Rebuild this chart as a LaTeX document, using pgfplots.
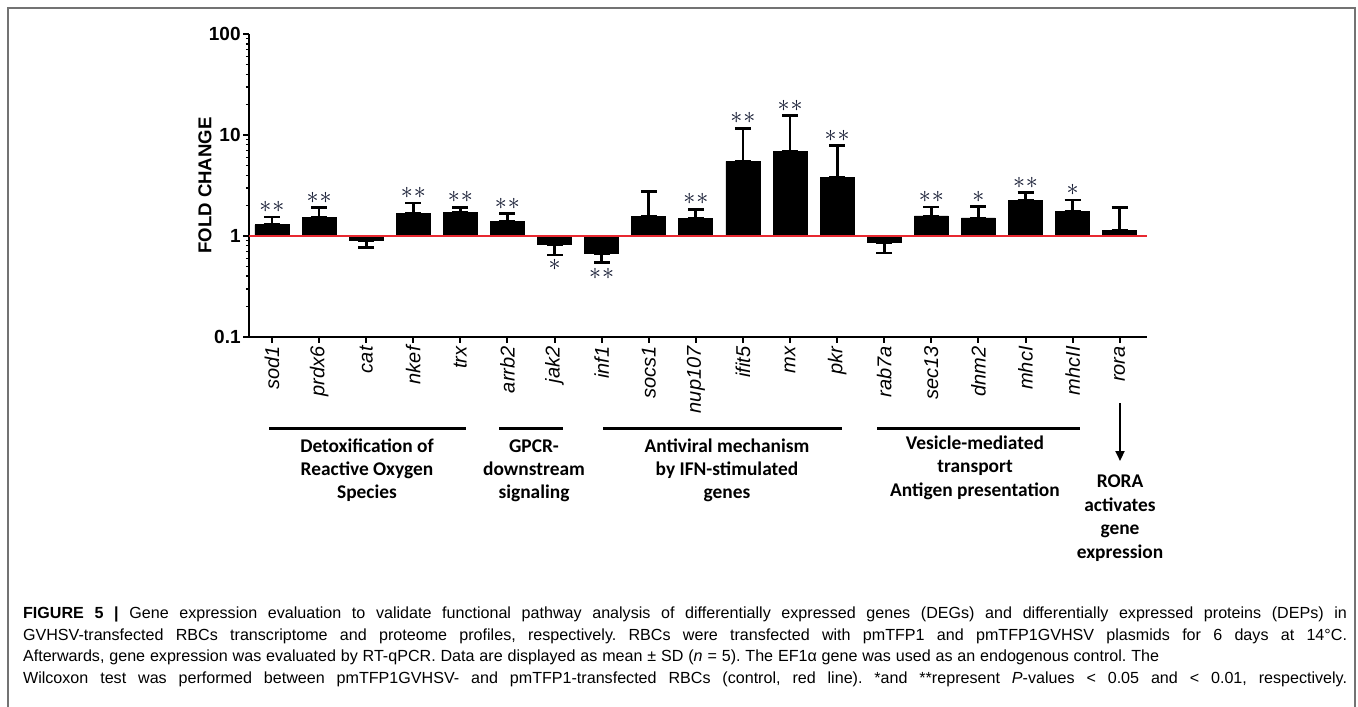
\documentclass[border=0pt]{standalone}
\usepackage{fontspec}
\setmainfont{Liberation Sans}
\newfontfamily\calibri{Carlito}
\newfontfamily\capfont{Liberation Sans}
\usepackage{pgfplots}
\pgfplotsset{compat=1.18}
\usepackage{pgfplotstable}
\usetikzlibrary{arrows.meta,plotmarks}
\definecolor{redline}{RGB}{232,40,48}
\definecolor{framegray}{RGB}{115,115,115}
\definecolor{starcol}{RGB}{18,24,48}

% x = category index, val = mean fold change, ep/em = SD (plus / minus)
\pgfplotstableread{
x val ep em
0 1.29 0.25 0
1 1.54 0.36 0
2 0.90 0 0.135
3 1.68 0.44 0
4 1.71 0.22 0
5 1.40 0.26 0
6 0.82 0 0.17
7 0.67 0 0.12
8 1.56 1.22 0
9 1.49 0.35 0
10 5.49 6.21 0
11 6.81 8.79 0
12 3.80 4.06 0
13 0.86 0 0.18
14 1.58 0.36 0
15 1.51 0.45 0
16 2.25 0.45 0
17 1.75 0.52 0
18 1.13 0.80 0
}\datatable

\newcommand{\grp}[3]{\node[anchor=base,inner sep=0pt,font=\calibri\bfseries\fontsize{9.7}{11}\selectfont] at (#1,#2) {#3};}
\newcommand{\capline}[3]{\node[anchor=base west, inner sep=0pt] at (22.7,#1) {\capfont\fontsize{8.05}{9}\selectfont\frenchspacing\hbox to #2{#3}};}
\newcommand{\twostar}{${\ast}\kern0.5pt{\ast}$}

\begin{document}
\begin{tikzpicture}
\begin{axis}[
  at={(124.5pt,-168.5pt)}, anchor=south west,
  scale only axis, width=449pt, height=151.5pt,
  ymode=log, ymin=0.1, ymax=100,
  xmin=-0.488, xmax=18.58,
  axis lines=left,
  axis line style={line width=1.2pt, -},
  tick align=outside,
  major tick length=3pt, minor tick length=1.6pt,
  every tick/.style={black, line width=1pt},
  minor tick style={line width=0.7pt},
  xtick={0,...,18},
  xticklabels={sod1,prdx6,cat,nkef,trx,arrb2,jak2,inf1,socs1,nup107,ifit5,mx,pkr,rab7a,sec13,dnm2,mhcI,mhcII,rora},
  xticklabel style={rotate=90, anchor=east, font=\itshape\fontsize{10}{12}\selectfont, inner sep=1.5pt},
  ytick={0.1,1,10,100},
  yticklabels={0.1,1,10,100},
  minor ytick={0.2,0.3,0.4,0.5,0.6,0.7,0.8,0.9,2,3,4,5,6,7,8,9,20,30,40,50,60,70,80,90},
  yticklabel style={font=\bfseries\fontsize{9.5}{11}\selectfont, inner sep=1pt},
  ylabel={FOLD CHANGE},
  every axis y label/.style={at={(axis description cs:-0.049,0.5)}, rotate=90, anchor=center, font=\bfseries\fontsize{9.3}{11}\selectfont},
  clip=false,
]
\addplot[ybar, bar width=17pt, bar shift=0pt, fill=black, draw=black,
  error bars/.cd, y dir=both, y explicit,
  error bar style={line width=1.4pt, black},
  error mark options={rotate=90, line width=1.4pt, mark size=4pt, black}]
  table[x=x, y=val, y error plus=ep, y error minus=em]{\datatable};

\addplot[redline, line width=0.9pt, no marks] coordinates {(-0.488,1) (18.58,1)};

% significance stars (at error-bar tips)
\addplot[only marks, mark=text, text mark={\twostar}, text mark as node=true,
  text mark style={font=\fontsize{11.5}{11}\selectfont, text=starcol, inner sep=0pt},
  mark options={yshift=5pt}]
  coordinates {(0,1.54) (1,1.90) (3,2.12) (4,1.93) (5,1.66) (9,1.84) (10,11.7) (11,15.6) (12,7.86) (14,1.94) (16,2.70)};
\addplot[only marks, mark=text, text mark={$\ast$}, text mark as node=true,
  text mark style={font=\fontsize{11.5}{11}\selectfont, text=starcol, inner sep=0pt},
  mark options={yshift=5pt}]
  coordinates {(15,1.96) (17,2.27)};
\addplot[only marks, mark=text, text mark={$\ast$}, text mark as node=true,
  text mark style={font=\fontsize{11.5}{11}\selectfont, text=starcol, inner sep=0pt},
  mark options={yshift=-5pt}]
  coordinates {(6,0.65)};
\addplot[only marks, mark=text, text mark={\twostar}, text mark as node=true,
  text mark style={font=\fontsize{11.5}{11}\selectfont, text=starcol, inner sep=0pt},
  mark options={yshift=-6pt}]
  coordinates {(7,0.55)};
\end{axis}

\begin{scope}[x=0.5pt,y=-0.5pt]
% frame
\draw[framegray, line width=1pt] (8,720) -- (8,8) -- (1355,8) -- (1355,720);

% group lines
\draw[line width=1.5pt] (269,428) -- (466,428);
\draw[line width=1.5pt] (499,428) -- (563,428);
\draw[line width=1.5pt] (603,428) -- (842,428);
\draw[line width=1.5pt] (877,428) -- (1080,428);
\draw[line width=1pt, -{Triangle[length=5pt,width=4.5pt]}] (1120,403) -- (1120,461);

% group labels
\grp{367}{452}{Detoxification of}
\grp{367}{475}{Reactive Oxygen}
\grp{367}{498}{Species}
\grp{534}{452}{GPCR-}
\grp{534}{475}{downstream}
\grp{534}{498}{signaling}
\grp{727}{452}{Antiviral mechanism}
\grp{727}{475}{by IFN-stimulated}
\grp{727}{498}{genes}
\grp{975}{449}{Vesicle-mediated}
\grp{975}{472.5}{transport}
\grp{975}{496}{Antigen presentation}
\grp{1120}{487.5}{RORA}
\grp{1120}{511}{activates}
\grp{1120}{534.5}{gene}
\grp{1120}{558}{expression}

% caption
\capline{618.3}{662pt}{\textbf{FIGURE 5 |} Gene expression evaluation to validate functional pathway analysis of differentially expressed genes (DEGs) and differentially expressed proteins (DEPs) in}
\capline{640}{662pt}{GVHSV-transfected RBCs transcriptome and proteome profiles, respectively. RBCs were transfected with pmTFP1 and pmTFP1GVHSV plasmids for 6 days at 14°C.}
\capline{661.7}{568pt}{Afterwards, gene expression was evaluated by RT-qPCR. Data are displayed as mean ± SD (\textit{n} = 5). The EF1α gene was used as an endogenous control. The}
\capline{683.3}{662pt}{Wilcoxon test was performed between pmTFP1GVHSV- and pmTFP1-transfected RBCs (control, red line). *and **represent \textit{P}-values < 0.05 and < 0.01, respectively.}

\pgfresetboundingbox
\useasboundingbox (0,0) rectangle (1358,706);
\end{scope}
\end{tikzpicture}
\end{document}
